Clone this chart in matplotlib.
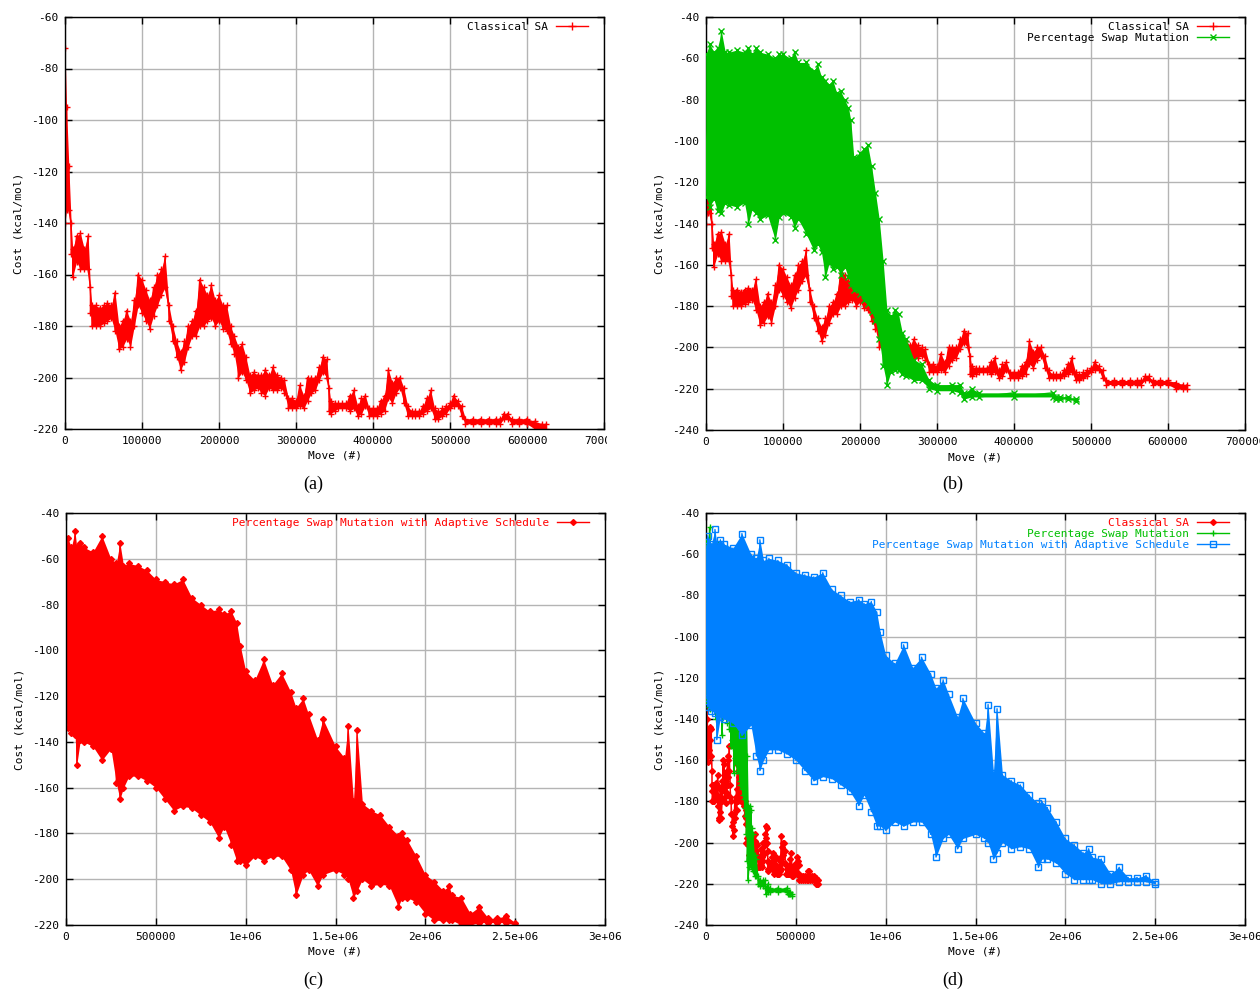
import numpy as np
import matplotlib
matplotlib.use("Agg")
import matplotlib.pyplot as plt
from matplotlib.lines import Line2D
from matplotlib.transforms import Bbox

# --- data (x in thousands of moves, cost upper/lower envelope) ---
sa_x = [0, 2, 5, 8, 10, 15, 20, 25, 30, 33, 35, 40, 45, 50, 55, 60, 65, 70, 75, 80,
        85, 90, 95, 100, 105, 110, 115, 120, 125, 130, 135, 140, 145, 150, 155, 160,
        165, 170, 175, 180, 185, 190, 195, 200, 205, 210, 215, 220, 225, 230, 235,
        240, 245, 250, 255, 260, 265, 270, 275, 280, 285, 290, 295, 300, 305, 310,
        315, 320, 325, 330, 335, 340, 343, 345, 350, 355, 360, 365, 370, 375, 380,
        385, 390, 395, 400, 405, 410, 415, 420, 425, 430, 435, 440, 445, 450, 455,
        460, 465, 470, 475, 480, 485, 490, 495, 500, 505, 510, 515, 520, 530, 540,
        550, 560, 565, 570, 575, 580, 590, 600, 610, 620, 625]
sa_hi = [-72, -95, -118, -140, -150, -145, -144, -150, -145, -165, -172, -172, -173,
         -172, -171, -172, -167, -180, -178, -174, -178, -170, -160, -162, -166, -170,
         -165, -160, -158, -153, -172, -180, -186, -190, -186, -180, -178, -174, -162,
         -165, -168, -164, -170, -168, -172, -172, -180, -184, -188, -187, -192, -199,
         -198, -199, -199, -197, -199, -196, -199, -200, -201, -208, -208, -209, -203,
         -207, -200, -200, -200, -196, -192, -193, -204, -209, -210, -210, -210, -210,
         -207, -205, -211, -208, -207, -212, -212, -212, -209, -207, -197, -202, -200,
         -200, -204, -211, -213, -213, -213, -211, -208, -205, -212, -213, -212, -211,
         -210, -207, -209, -211, -216, -216, -216, -216, -216, -216, -214, -214, -216,
         -216, -216, -217, -218, -218]
sa_lo = [-140, -135, -135, -152, -161, -155, -158, -158, -158, -175, -180, -180, -180,
         -179, -178, -177, -182, -189, -188, -185, -188, -180, -172, -175, -178, -181,
         -176, -172, -168, -165, -178, -186, -192, -197, -194, -188, -184, -184, -180,
         -180, -178, -177, -180, -178, -181, -182, -187, -191, -200, -198, -201, -206,
         -205, -204, -206, -207, -204, -205, -205, -204, -206, -212, -212, -212, -211,
         -212, -209, -206, -205, -201, -198, -200, -213, -214, -213, -212, -212, -212,
         -213, -212, -215, -214, -211, -215, -215, -215, -214, -213, -208, -210, -206,
         -204, -210, -215, -215, -215, -215, -214, -213, -212, -216, -216, -215, -214,
         -212, -211, -211, -215, -218, -218, -218, -218, -218, -218, -216, -216, -218,
         -218, -218, -220, -220, -220]

psm_x = [0, 5, 10, 15, 20, 25, 30, 40, 50, 55, 60, 65, 70, 80, 90, 95, 100, 110, 115,
         120, 130, 140, 145, 150, 155, 160, 165, 170, 175, 180, 185, 188, 192, 200,
         205, 210, 215, 220, 225, 230, 235, 240, 245, 250, 255, 260, 270, 280, 290,
         300, 320, 330, 335, 345, 355, 400, 450, 455, 460, 470, 480]
psm_hi = [-58, -53, -57, -55, -47, -57, -57, -56, -57, -55, -58, -55, -57, -58, -60,
          -58, -58, -60, -57, -62, -62, -66, -63, -69, -71, -73, -71, -77, -76, -80,
          -84, -90, -108, -106, -104, -102, -112, -125, -138, -158, -182, -185, -182,
          -184, -193, -196, -206, -208, -216, -218, -218, -218, -222, -220, -222, -222,
          -222, -224, -224, -224, -225]
psm_lo = [-127, -132, -128, -134, -135, -130, -131, -132, -130, -140, -133, -135, -138,
          -136, -148, -137, -135, -137, -142, -138, -145, -153, -150, -154, -166, -159,
          -162, -161, -165, -161, -166, -170, -172, -174, -177, -179, -183, -187, -196,
          -209, -218, -212, -211, -211, -213, -214, -216, -216, -220, -221, -221, -222,
          -225, -224, -224, -224, -224, -225, -225, -225, -226]

ada_x = [0, 10, 30, 50, 60, 80, 100, 150, 200, 250, 280, 300, 320, 350, 400, 450, 500,
         550, 600, 650, 700, 750, 800, 850, 880, 920, 950, 970, 1000, 1050, 1100,
         1150, 1200, 1250, 1280, 1320, 1350, 1400, 1430, 1500, 1550, 1570, 1600, 1620,
         1650, 1700, 1750, 1800, 1850, 1870, 1900, 1950, 2000, 2050, 2100, 2130, 2150,
         2200, 2250, 2300, 2350, 2400, 2450, 2500]
ada_hi = [-56, -51, -55, -48, -55, -53, -55, -57, -50, -60, -62, -53, -63, -62, -63,
          -65, -69, -70, -71, -69, -77, -80, -83, -82, -84, -83, -88, -98, -109, -113,
          -104, -115, -110, -118, -125, -121, -128, -139, -130, -142, -147, -133, -166,
          -135, -167, -170, -172, -177, -181, -180, -183, -190, -198, -201, -205, -203,
          -207, -208, -215, -212, -217, -217, -216, -219]
ada_lo = [-130, -134, -136, -137, -150, -139, -140, -142, -148, -143, -158, -165, -160,
          -155, -155, -157, -160, -165, -170, -168, -169, -172, -175, -182, -177, -185,
          -192, -192, -194, -190, -192, -190, -190, -196, -207, -198, -196, -203, -198,
          -196, -198, -200, -208, -205, -200, -203, -202, -203, -212, -208, -208, -210,
          -215, -218, -218, -218, -218, -220, -220, -219, -219, -219, -219, -220]

xt_small = [0, 100000, 200000, 300000, 400000, 500000, 600000, 700000]
xl_small = ["0", "100000", "200000", "300000", "400000", "500000", "600000", "700000"]
xt_big = [0, 500000, 1000000, 1500000, 2000000, 2500000, 3000000]
xl_big = ["0", "500000", "1e+06", "1.5e+06", "2e+06", "2.5e+06", "3e+06"]

RED, GREEN, BLUE = "#ff0000", "#00c000", "#0080ff"
SA_LABEL = "Classical SA"
PSM_LABEL = "Percentage Swap Mutation"
ADA_LABEL = "Percentage Swap Mutation with Adaptive Schedule"

plt.rcParams["font.family"] = ["DejaVu Sans Mono"]
W, H = 1260, 991
FS = 8

fig = plt.figure(figsize=(W / 100, H / 100), dpi=100)


def px_axes(left, top, right, bottom):
    return fig.add_axes([left / W, 1 - bottom / H, (right - left) / W, (bottom - top) / H])


def style(ax, xlim, ylim, xticks, xlabels, yticks):
    ax.set_xlim(xlim)
    ax.set_ylim(ylim)
    ax.set_xticks(xticks)
    labs = ax.set_xticklabels(xlabels)
    ax.set_yticks(yticks)
    ax.set_yticklabels([str(v) for v in yticks])
    ax.tick_params(direction="in", length=5, width=1, top=True, right=True,
                   labelsize=FS, pad=5)
    ax.grid(True, color="#b4b4b4", lw=1)
    ax.set_axisbelow(True)
    for s in ax.spines.values():
        s.set_linewidth(1)
    ax.set_xlabel("Move (#)", fontsize=FS)
    ax.set_ylabel("Cost (kcal/mol)", fontsize=FS)
    bb = ax.get_position()
    wpx, hpx = bb.width * W, bb.height * H
    ax.xaxis.set_label_coords(0.5, -22 / hpx)
    ax.yaxis.set_label_coords(-41 / wpx, 0.5)
    return labs


def trace(ax, xs, hi, lo, color, marker, ms, mfc=None, z=2):
    x = np.asarray(xs) * 1000.0
    hi = np.asarray(hi, float)
    lo = np.asarray(lo, float)
    ax.fill_between(x, lo, hi, color=color, lw=0, zorder=z)
    xz = np.repeat(x, 2)
    yz = np.column_stack([hi, lo]).ravel()
    ax.plot(xz, yz, color=color, lw=1, marker=marker, ms=ms, mew=1,
            mfc=mfc if mfc else color, zorder=z)


def legend(ax, entries, textcolors):
    handles = [Line2D([], [], color=c, lw=1, marker=m, ms=ms, mew=1,
                      mfc=(mf if mf else c)) for (c, m, ms, mf) in entries[0]]
    bb = ax.get_position()
    wpx, hpx = bb.width * W, bb.height * H
    ax.legend(handles, entries[1], loc="upper right",
              bbox_to_anchor=(1 - 16 / wpx, 1 - 5 / hpx), frameon=False,
              markerfirst=False, numpoints=1, handlelength=2.9, handletextpad=0.7,
              borderpad=0, borderaxespad=0, labelspacing=0.1, fontsize=FS,
              labelcolor=textcolors)


# (a) Classical SA
ax = px_axes(65, 17, 604, 429)
labs = style(ax, (0, 700000), (-220, -60), xt_small, xl_small, list(range(-220, -59, 20)))
trace(ax, sa_x, sa_hi, sa_lo, RED, "+", 5)
legend(ax, ([(RED, "+", 6, None)], [SA_LABEL]), ["black"])
labs[-1].set_clip_box(Bbox.from_extents(0, 0, 607, H))
labs[-1].set_clip_on(True)

# (b) Classical SA vs Percentage Swap Mutation
ax = px_axes(706, 17, 1245, 430)
style(ax, (0, 700000), (-240, -40), xt_small, xl_small, list(range(-240, -39, 20)))
trace(ax, sa_x, sa_hi, sa_lo, RED, "+", 5, z=2)
trace(ax, psm_x, psm_hi, psm_lo, GREEN, "x", 4, z=3)
legend(ax, ([(RED, "+", 6, None), (GREEN, "x", 4, None)], [SA_LABEL, PSM_LABEL]),
       ["black", "black"])

# (c) Adaptive schedule
ax = px_axes(66, 513, 605, 925)
style(ax, (0, 3000000), (-220, -40), xt_big, xl_big, list(range(-220, -39, 20)))
trace(ax, ada_x, ada_hi, ada_lo, RED, "D", 3)
legend(ax, ([(RED, "D", 3, None)], [ADA_LABEL]), [RED])

# (d) all three
ax = px_axes(706, 513, 1245, 925)
style(ax, (0, 3000000), (-240, -40), xt_big, xl_big, list(range(-240, -39, 20)))
trace(ax, sa_x, sa_hi, sa_lo, RED, "D", 3, z=2)
trace(ax, psm_x, psm_hi, psm_lo, GREEN, "+", 5, z=3)
trace(ax, ada_x, ada_hi, ada_lo, BLUE, "s", 4, mfc="none", z=4)
legend(ax, ([(RED, "D", 3, None), (GREEN, "+", 5, None), (BLUE, "s", 4, "none")],
            [SA_LABEL, PSM_LABEL, ADA_LABEL]), [RED, GREEN, BLUE])

for lab, (cx, cy) in zip(["(a)", "(b)", "(c)", "(d)"],
                         [(313, 484), (953, 484), (313, 980), (953, 980)]):
    fig.text(cx / W, 1 - cy / H, lab, fontsize=13, family="Liberation Serif",
             ha="center", va="center")

fig.savefig("out.png", dpi=100)
